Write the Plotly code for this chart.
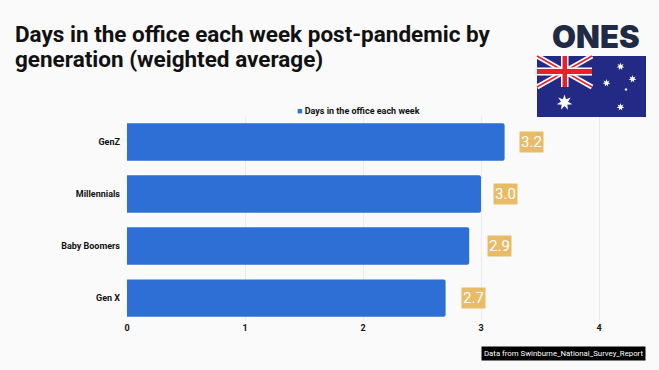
import math
import plotly.graph_objects as go

categories = ["GenZ", "Millennials", "Baby Boomers", "Gen X"]
values = [3.2, 3.0, 2.9, 2.7]
labels = ["3.2", "3.0", "2.9", "2.7"]
label_offsets = [14, 12, 18, 15]
series_name = "Days in the office each week"
title_lines = ["Days in the office each week post-pandemic by", "generation (weighted average)"]
x_ticks = [0, 1, 2, 3, 4]

W, H = 659, 370
L, R, T, B = 127, 13, 116, 49
PW, PH = W - L - R, H - T - B
BLUE = "#2E6FD6"
BG = "#FAFAFA"
NAVY = "#232A86"
RED = "#E8202E"


def px(x):
    return (x - L) / PW


def py(y):
    return 1 - (y - T) / PH


fig = go.Figure(go.Bar(
    y=categories, x=values, orientation="h", name=series_name,
    marker=dict(color=BLUE, cornerradius=2, line=dict(width=0)),
    showlegend=False, width=0.72,
))

shapes = []


def rect(x0, y0, x1, y1, color):
    shapes.append(dict(type="rect", xref="paper", yref="paper", x0=px(x0), x1=px(x1),
                       y0=py(y0), y1=py(y1), fillcolor=color, line=dict(width=0), layer="above"))


def line(x0, y0, x1, y1, color, w):
    shapes.append(dict(type="line", xref="paper", yref="paper", x0=px(x0), x1=px(x1),
                       y0=py(y0), y1=py(y1), line=dict(color=color, width=w), layer="above"))


def star(cx, cy, r, n=7, inner=0.45):
    pts = []
    for i in range(2 * n):
        a = math.pi * i / n - math.pi / 2
        q = r if i % 2 == 0 else r * inner
        pts.append((px(cx + q * math.cos(a)), py(cy + q * math.sin(a))))
    path = "M" + " L".join(f"{a:.5f},{b:.5f}" for a, b in pts) + " Z"
    shapes.append(dict(type="path", xref="paper", yref="paper", path=path,
                       fillcolor="white", line=dict(width=0), layer="above"))


# flag
rect(537, 56, 646, 117, NAVY)
line(537, 56, 592, 87, "white", 5)
line(537, 87, 592, 56, "white", 5)
line(537, 56, 592, 87, RED, 1.6)
line(537, 87, 592, 56, RED, 1.6)
rect(537, 67.5, 592, 75.5, "white")
rect(561, 56, 568.5, 87, "white")
rect(537, 69, 592, 74, RED)
rect(562.5, 56, 567, 87, RED)
star(564.5, 102.5, 8)
star(620.5, 66.5, 4)
star(606.5, 83, 4)
star(632.5, 79, 4)
star(620.5, 107, 4)
star(626, 89.5, 1.8, n=5)

annotations = [
    dict(x=v, y=c, xref="x", yref="y", text=t, showarrow=False, xanchor="left",
         xshift=o, bgcolor="#E8BC66", font=dict(family="Roboto", size=15, color="#FFFFFF"),
         borderpad=1)
    for c, v, t, o in zip(categories, values, labels, label_offsets)
]
annotations += [
    dict(x=px(12.5), y=py(33.5 + 26 * i), xref="paper", yref="paper", xanchor="left", yanchor="middle",
         showarrow=False, text=f"<b>{t}</b>",
         font=dict(family="Roboto", size=22.5, color="#111111"))
    for i, t in enumerate(title_lines)
]
annotations += [
    dict(x=px(596), y=py(36), xref="paper", yref="paper", showarrow=False, xanchor="center", yanchor="middle",
         text="ONES", font=dict(family="Inter", size=31, weight=900, color="#1F2A44")),
    dict(x=px(358), y=py(110.5), xref="paper", yref="paper", showarrow=False, xanchor="center", yanchor="middle",
         text=f"<span style='color:{BLUE}'>■</span> <b>{series_name}</b>",
         font=dict(family="Roboto", size=9, color="#111111")),
    dict(x=px(563), y=py(353.5), xref="paper", yref="paper", showarrow=False, xanchor="center", yanchor="middle",
         text="Data from Swinburne_National_Survey_Report", bgcolor="#000000", borderpad=2,
         font=dict(family="Roboto", size=7.8, color="#FFFFFF")),
]

fig.update_layout(
    width=W, height=H, margin=dict(l=L, r=R, t=T, b=B, autoexpand=False),
    paper_bgcolor=BG, plot_bgcolor=BG, bargap=0.28,
    font=dict(family="Roboto", color="#111111"),
    shapes=shapes, annotations=annotations,
    xaxis=dict(range=[0, PW / 118], tickvals=x_ticks, showgrid=True, gridcolor="#EBEBEB", gridwidth=1,
               zeroline=False, showline=False, ticks="",
               tickfont=dict(family="Roboto", size=9, weight="bold", color="#111111")),
    yaxis=dict(categoryorder="array", categoryarray=categories[::-1], range=[-0.44, 3.5], showgrid=False,
               showline=False, ticks="", ticklabelstandoff=6,
               tickfont=dict(family="Roboto", size=9, weight="bold", color="#111111")),
)
fig.write_html("out.html", config={"displayModeBar": False},
               post_script="document.body.style.margin='0';document.documentElement.style.background='#FAFAFA';")
